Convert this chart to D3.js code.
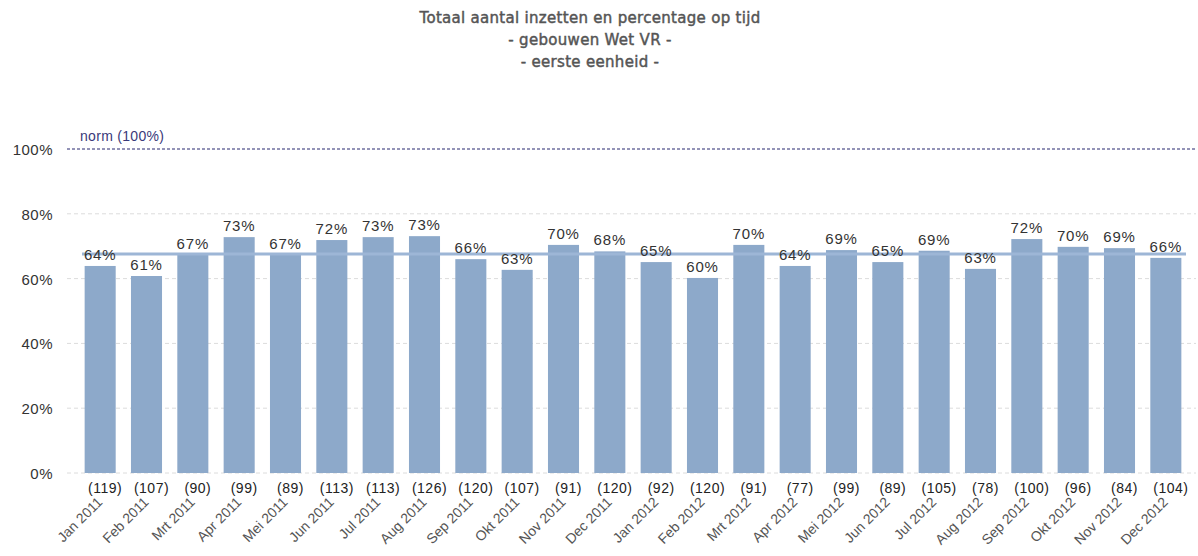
<!DOCTYPE html>
<html>
<head>
<meta charset="utf-8">
<script src="https://cdn.jsdelivr.net/npm/d3@7"></script>
<style>
  body { margin: 0; background: #fff; }
  text { font-family: "Liberation Sans", Arial, sans-serif; }
</style>
</head>
<body>
<svg id="chart" width="1198" height="556"></svg>
<script>
const months = ['Jan 2011','Feb 2011','Mrt 2011','Apr 2011','Mei 2011','Jun 2011','Jul 2011','Aug 2011','Sep 2011','Okt 2011','Nov 2011','Dec 2011',
                'Jan 2012','Feb 2012','Mrt 2012','Apr 2012','Mei 2012','Jun 2012','Jul 2012','Aug 2012','Sep 2012','Okt 2012','Nov 2012','Dec 2012'];
const pct = [63.9,60.8,67.3,72.8,67.4,71.9,72.8,73.1,66.0,62.7,70.4,68.4,
             65.1,60.2,70.4,63.9,68.8,65.1,68.6,63.0,72.2,69.8,69.4,66.4];
const counts = [119,107,90,99,89,113,113,126,120,107,91,120,92,120,91,77,99,89,105,78,100,96,84,104];
const yTicks = [0,20,40,60,80,100];
const average = 67.6;
const norm = 100;
const titleLines = ['Totaal aantal inzetten en percentage op tijd','- gebouwen Wet VR -','- eerste eenheid -'];

const svg = d3.select('#chart');
const plotLeft = 67, plotRight = 1196;
const x = d3.scaleBand().domain(months).range([77, 1189]).paddingInner(0.33).paddingOuter(0.165);
const y = d3.scaleLinear().domain([0, 100]).range([473, 149]);

// title
svg.append('g').selectAll('text').data(titleLines).enter().append('text')
  .attr('x', 590).attr('y', (d, i) => 23 + i * 22)
  .attr('text-anchor', 'middle')
  .style('font-family', '"DejaVu Sans", Verdana, sans-serif')
  .style('font-size', '15px').style('letter-spacing', '0.3px')
  .style('fill', '#555').style('stroke', '#555').style('stroke-width', '0.45px')
  .text(d => d);

// gridlines + y labels
const grid = svg.append('g');
grid.selectAll('line').data(yTicks.filter(t => t !== norm)).enter().append('line')
  .attr('x1', plotLeft).attr('x2', plotRight)
  .attr('y1', d => y(d)).attr('y2', d => y(d))
  .attr('stroke', '#dcdcdc').attr('stroke-dasharray', '4,3');
grid.selectAll('text').data(yTicks).enter().append('text')
  .attr('x', 53).attr('y', d => y(d) + 6)
  .attr('text-anchor', 'end')
  .style('font-size', '15px').style('fill', '#333').style('letter-spacing', '0.5px')
  .text(d => d + '%');

// norm line
svg.append('line')
  .attr('x1', plotLeft).attr('x2', plotRight)
  .attr('y1', y(norm)).attr('y2', y(norm))
  .attr('stroke', '#26266e').attr('stroke-dasharray', '3,2');
svg.append('text').attr('x', 80).attr('y', y(norm) - 8)
  .style('font-size', '14px').style('fill', '#3a3a7a').style('letter-spacing', '0.3px')
  .text('norm (' + norm + '%)');

// bars
svg.append('g').selectAll('rect').data(months).enter().append('rect')
  .attr('x', d => x(d)).attr('width', x.bandwidth())
  .attr('y', (d, i) => y(pct[i])).attr('height', (d, i) => y(0) - y(pct[i]))
  .attr('fill', '#8da9ca');

// average line
svg.append('line')
  .attr('x1', 82).attr('x2', 1186)
  .attr('y1', y(average)).attr('y2', y(average))
  .attr('stroke', '#9db6d6').attr('stroke-width', 3);

// percent labels
svg.append('g').selectAll('text').data(months).enter().append('text')
  .attr('x', d => x(d) + x.bandwidth() / 2)
  .attr('y', (d, i) => y(pct[i]) - 6)
  .attr('text-anchor', 'middle')
  .style('font-size', '15px').style('fill', '#333').style('letter-spacing', '0.8px')
  .text((d, i) => Math.round(pct[i]) + '%');

// count labels
svg.append('g').selectAll('text').data(months).enter().append('text')
  .attr('x', d => x(d) + x.bandwidth() / 2 + 5)
  .attr('y', 493)
  .attr('text-anchor', 'middle')
  .style('font-size', '14px').style('fill', '#222').style('letter-spacing', '0.5px')
  .text((d, i) => '(' + counts[i] + ')');

// x labels
svg.append('g').selectAll('text').data(months).enter().append('text')
  .attr('transform', d => `translate(${x(d) + x.bandwidth() / 2 + 3}, 503) rotate(-45)`)
  .attr('text-anchor', 'end')
  .style('font-size', '14px').style('fill', '#555')
  .text(d => d);
</script>
</body>
</html>
